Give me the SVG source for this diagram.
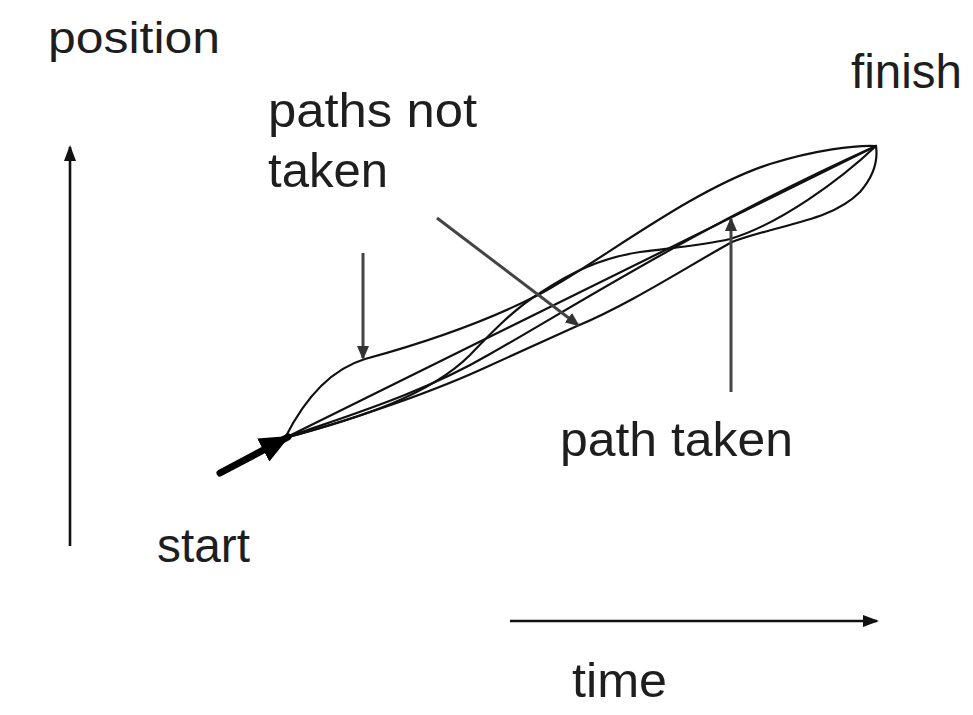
<svg xmlns="http://www.w3.org/2000/svg" width="973" height="715" viewBox="0 0 973 715">
<style>
text{font-family:"Liberation Sans",Arial,Helvetica,sans-serif;font-size:48px;fill:#1e1e1e}
.path{fill:none;stroke:#111;stroke-width:2.2;stroke-linecap:round}
.axis{fill:none;stroke:#111;stroke-width:2.6}
.ptr{fill:none;stroke:#444;stroke-width:3}
</style>
<defs>
<marker id="ah" markerUnits="userSpaceOnUse" markerWidth="16" markerHeight="12" refX="14" refY="6" orient="auto">
<path d="M0,0 L16,6 L0,12 Z" fill="#111"/>
</marker>
<marker id="gh" markerUnits="userSpaceOnUse" markerWidth="14" markerHeight="12" refX="12" refY="6" orient="auto">
<path d="M0,0 L14,6 L0,12 Z" fill="#333"/>
</marker>
<marker id="bh" markerUnits="userSpaceOnUse" markerWidth="30" markerHeight="26" refX="28" refY="13" orient="auto">
<path d="M0,0 L30,13 L0,26 Z" fill="#000"/>
</marker>
</defs>
<rect width="973" height="715" fill="#fff"/>
<g id="axes">
<line class="axis" x1="70" y1="546" x2="70" y2="147" marker-end="url(#ah)"/>
<line class="axis" x1="510" y1="621" x2="877" y2="621" marker-end="url(#ah)"/>
</g>
<g id="paths">
<path id="upper" class="path" d="M285,438 C298,412 322,372 365,359 C420,344 480,325 540,294 C600,262 690,190 770,164 C815,150 855,145 876,146"/>
<path id="straight" class="path" d="M285,438 L876,146"/>
<path id="extra" class="path" d="M285,438 C340,418 420,395 490,354 C560,315 700,225 876,146"/>
<path id="lower" class="path" d="M285,438 C340,423 420,397 480,370 C520,352 550,338 577,326 C630,304 690,265 732,242 C780,224 830,222 860,192 C874,176 878,160 876,146"/>
<path id="wave" class="path" d="M285,438 C360,418 430,395 470,355 C490,334 515,308 540,293 C570,273 600,258 640,252 C680,247 705,245 730,239 C780,224 840,180 876,146"/>
</g>
<g id="start-arrow">
<line x1="220" y1="473" x2="288" y2="437" stroke="#000" stroke-width="7" stroke-linecap="round" marker-end="url(#bh)"/>
</g>
<g id="pointers">
<line class="ptr" x1="363" y1="253" x2="363" y2="358" marker-end="url(#gh)"/>
<line class="ptr" x1="437" y1="218" x2="578" y2="325" marker-end="url(#gh)"/>
<line class="ptr" x1="731" y1="392" x2="731" y2="219" marker-end="url(#gh)"/>
</g>
<g id="labels">
<text x="48" y="53" textLength="172" lengthAdjust="spacingAndGlyphs" style="font-size:45px">position</text>
<text x="268" y="127" textLength="209" lengthAdjust="spacingAndGlyphs">paths not</text>
<text x="268" y="187" textLength="120" lengthAdjust="spacingAndGlyphs">taken</text>
<text x="851" y="88" textLength="111" lengthAdjust="spacingAndGlyphs">finish</text>
<text x="560" y="456" textLength="233" lengthAdjust="spacingAndGlyphs">path taken</text>
<text x="157" y="562" textLength="93" lengthAdjust="spacingAndGlyphs">start</text>
<text x="572" y="697" textLength="95" lengthAdjust="spacingAndGlyphs">time</text>
</g>
</svg>
